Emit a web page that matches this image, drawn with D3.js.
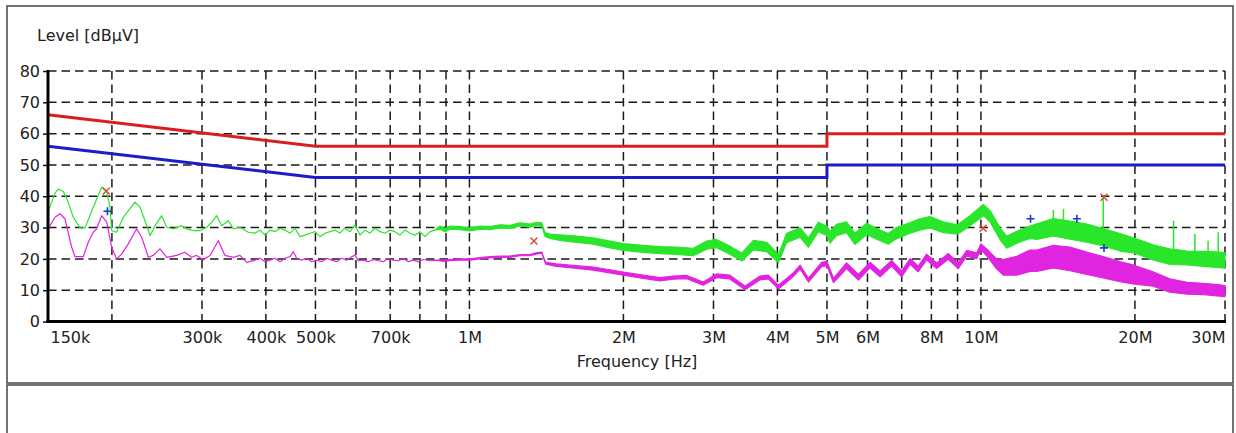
<!DOCTYPE html>
<html>
<head>
<meta charset="utf-8">
<script src="https://cdn.jsdelivr.net/npm/d3@7"></script>
<style>
    body { margin: 0; background: #fff; }
    svg text { font-family: "DejaVu Sans", Verdana, sans-serif; fill: #222; }
</style>
</head>
<body>
<svg id="chart" width="1236" height="433"></svg>
<script>
// frequencies in kHz, levels in dBµV, third value = half width of the noise band
const peakTrace = [
    [150, 35.0], [154.8, 41.0], [157.1, 42.3], [160.7, 41.5], [163.5, 39.0], [168.1, 33.3], [173.3, 29.9],
    [177.2, 29.9], [183.9, 36.5], [191.0, 42.9], [195.4, 41.3], [198.3, 36.5], [199.8, 29.0], [204.3, 28.5],
    [210.6, 33.3], [221.9, 38.1], [227.0, 36.5], [234.0, 30.6], [237.5, 27.4], [242.9, 30.6], [250.3, 33.8],
    [256.0, 30.1], [263.7, 29.6], [273.8, 30.6], [280.0, 29.6], [288.5, 29.0], [297.3, 29.0], [306.5, 30.1],
    [313.4, 31.7], [320.6, 33.8], [327.8, 30.6], [337.8, 32.2], [345.5, 29.6], [356.0, 30.1], [369.6, 28.5],
    [380.8, 28.2], [389.5, 29.2], [398.4, 27.6], [407.5, 29.2], [416.7, 28.7], [426.3, 29.8], [435.9, 29.2],
    [445.9, 28.2], [456.0, 29.8], [466.4, 27.1], [477.0, 27.6], [487.8, 28.2], [499.0, 28.7], [510.3, 27.1],
    [521.9, 28.2], [533.8, 28.7], [546.0, 29.2], [558.4, 28.2], [571.0, 29.8], [584.0, 28.7], [597.3, 30.8],
    [611.0, 27.6], [624.9, 29.2], [639.2, 28.2], [653.7, 29.8], [668.6, 28.7], [683.7, 28.2], [699.3, 29.2],
    [715, 28.7], [731.5, 27.6], [748, 29.2], [765.3, 28.2], [783, 27.6], [800.6, 28.7], [819, 27.1],
    [837.3, 28.7], [856, 29.2], [876, 30.0, 0.5], [896, 29.2, 0.5], [916.2, 30.0, 0.5], [958.5, 29.8, 0.5],
    [1002.5, 29.4, 0.5], [1048.8, 30.0, 0.5], [1097, 29.8, 0.5], [1147.5, 30.4, 0.5], [1200, 30.2, 0.5],
    [1255.6, 31.0, 0.5], [1313, 30.6, 0.5], [1355, 31.2, 0.5], [1385, 31.0, 0.5], [1405, 27.8, 0.6],
    [1437, 27.2, 0.7], [1503, 26.8, 0.9], [1620, 26.3, 1.0], [1747, 25.7, 1.0], [1883, 24.6, 1.1],
    [2000, 23.8, 1.1], [2187, 23.2, 1.1], [2359, 22.8, 1.1], [2543, 22.6, 1.2], [2739, 22.2, 1.2],
    [2910, 24.4, 1.3], [3040, 24.9, 1.3], [3185, 23.3, 1.3], [3410, 20.6, 1.3], [3590, 24.4, 1.5],
    [3810, 23.8, 1.5], [4020, 20.1, 1.3], [4170, 26.7, 1.5], [4430, 28.4, 1.5], [4600, 25.2, 1.5],
    [4810, 30.2, 1.5], [5000, 28.9, 1.5], [5070, 26.9, 1.9], [5220, 29.2, 1.8], [5460, 30.1, 1.7],
    [5670, 26.4, 1.8], [5980, 29.6, 1.8], [6250, 28.0, 1.7], [6590, 26.4, 1.7], [6840, 28.2, 1.8],
    [7270, 29.9, 1.7], [7600, 31.0, 1.8], [7950, 31.7, 1.8], [8440, 30.1, 1.7], [9000, 29.4, 1.5],
    [9520, 32.2, 1.6], [10110, 35.6, 1.8], [10420, 33.6, 1.8], [10900, 28.0, 1.9], [11230, 25.3, 1.9],
    [11750, 26.9, 1.9], [12470, 28.5, 2.0], [12860, 28.7, 2.5], [13850, 30.1, 2.8], [14930, 29.2, 2.9],
    [16100, 28.2, 2.9], [17340, 26.9, 2.8], [18700, 25.3, 2.8], [20000, 24.2, 2.4], [21700, 22.1, 2.4],
    [23400, 20.7, 2.5], [25300, 20.3, 2.2], [27200, 20.0, 2.4], [29300, 19.7, 2.5], [30000, 19.5, 2.5]
];

const avgTrace = [
    [150, 29.6], [154.8, 33.3], [158.3, 34.4], [161.9, 32.8], [166.9, 23.7], [169.4, 20.7], [175.8, 20.7],
    [179.8, 25.3], [183.9, 28.5], [186.7, 29.6], [191.0, 33.8], [195.4, 31.7], [199.8, 23.7], [204.3, 20.0],
    [209.1, 21.6], [215.3, 24.8], [223.6, 29.6], [228.7, 26.9], [235.7, 20.5], [241.0, 21.1], [248.3, 23.2],
    [256.0, 20.5], [267.7, 21.1], [277.8, 22.1], [286.3, 20.5], [292.9, 21.1], [301.8, 19.7], [311.0, 21.1],
    [322.9, 25.8], [332.7, 21.1], [345.5, 20.5], [356.0, 21.1], [366.9, 18.9], [380.8, 19.6], [389.5, 20.2],
    [398.4, 19.1], [407.5, 19.6], [416.7, 20.2], [426.3, 19.1], [435.9, 20.2], [445.9, 20.7], [452.6, 22.3],
    [459.5, 20.2], [470.0, 19.6], [480.8, 20.2], [491.7, 19.1], [502.8, 19.6], [514.2, 19.1], [525.9, 20.2],
    [537.8, 19.6], [550.0, 19.1], [562.5, 20.2], [575.5, 19.6], [588.6, 20.7], [597.3, 21.2], [606.4, 19.4],
    [620.3, 19.6], [634.4, 19.1], [648.8, 19.8], [663.4, 19.4], [678.6, 19.1], [694.0, 20.2], [709.8, 19.6],
    [726.0, 19.4], [742.5, 20.2], [759.4, 19.1], [776.7, 19.6], [794.5, 19.1], [812.4, 19.8], [837.3, 19.4],
    [863.1, 19.6], [889, 19.4, 0.2], [916.2, 19.6, 0.2], [958.5, 19.8, 0.2], [1002.5, 19.8, 0.2],
    [1048.8, 20.2, 0.2], [1097, 20.5, 0.2], [1147.5, 20.7, 0.2], [1200, 20.7, 0.2], [1255.6, 21.2, 0.2],
    [1313, 21.2, 0.2], [1355, 21.8, 0.2], [1385, 22.0, 0.2], [1397, 20.2, 0.2], [1410, 18.6, 0.3],
    [1481, 18.0, 0.4], [1572, 17.6, 0.4], [1747, 16.9, 0.5], [2000, 15.3, 0.5], [2187, 14.3, 0.5],
    [2359, 13.5, 0.5], [2500, 14.0, 0.5], [2660, 14.2, 0.5], [2865, 12.1, 0.5], [3040, 14.6, 0.6],
    [3230, 14.2, 0.6], [3460, 10.7, 0.6], [3700, 13.9, 0.6], [3840, 14.2, 0.6], [4020, 11.0, 0.6],
    [4300, 15.0, 0.6], [4430, 17.4, 0.6], [4600, 13.2, 0.6], [4880, 18.2, 0.7], [5000, 18.5, 0.7],
    [5150, 13.1, 0.7], [5460, 17.8, 0.9], [5760, 14.1, 0.9], [6070, 18.0, 0.9], [6350, 15.2, 0.9],
    [6690, 18.6, 0.9], [7000, 15.2, 0.9], [7270, 19.2, 0.9], [7540, 16.8, 0.9], [7830, 20.6, 0.9],
    [8190, 17.8, 0.9], [8630, 20.8, 0.9], [9030, 17.8, 0.9], [9380, 21.8, 0.9], [9810, 21.0, 0.9],
    [10000, 23.8, 1.0], [10260, 22.1, 1.1], [10730, 18.4, 1.6], [11060, 17.3, 2.5], [11750, 17.8, 3.0],
    [12470, 19.4, 3.4], [12860, 19.4, 3.4], [13850, 20.7, 3.6], [14930, 20.0, 3.8], [16100, 18.6, 3.6],
    [17340, 17.3, 3.4], [18700, 15.9, 3.2], [20000, 14.9, 3.0], [21700, 13.6, 2.3], [23400, 11.5, 2.1],
    [25300, 10.6, 1.9], [27200, 10.4, 1.8], [29300, 9.9, 1.8], [30000, 9.7, 1.8]
];

// narrow peaks sticking out of the peak band: [kHz, from, to]
const peakSpikes = [[13850, 32, 35.6], [14500, 32, 36.0], [17340, 28, 39.7], [23800, 22, 32.2],
    [26200, 22, 28.0], [27800, 21, 25.8], [29100, 21, 28.5]];

const qpMarkers = [[195, 41.7], [1337, 25.7], [10100, 29.8], [17400, 39.7]];
const avMarkers = [[196, 35.2], [12500, 32.8], [15400, 32.8], [17400, 23.5]];

const qpLimit = [[150, 66], [500, 56], [5000, 56], [5000, 60], [30000, 60]];
const avLimit = [[150, 56], [500, 46], [5000, 46], [5000, 50], [30000, 50]];

const xLabelFreqs = [150, 300, 400, 500, 700, 1000, 2000, 3000, 4000, 5000, 6000, 8000, 10000, 20000, 30000];
const xLabels = ['150k', '300k', '400k', '500k', '700k', '1M', '2M', '3M', '4M', '5M', '6M', '8M', '10M', '20M', '30M'];
const xGridFreqs = [200, 300, 400, 500, 600, 700, 800, 900, 1000, 2000, 3000, 4000, 5000, 6000, 7000, 8000,
    9000, 10000, 20000, 30000];
const yTicks = [0, 10, 20, 30, 40, 50, 60, 70, 80];

const plot = { left: 48, right: 1225, top: 71, bottom: 321.5 };
const green = '#2ae62a';
const magenta = '#e024e0';

const svg = d3.select('#chart');
const x = d3.scaleLog().domain([150, 30000]).range([plot.left, plot.right]);
const y = d3.scaleLinear().domain([0, 80]).range([plot.bottom, plot.top]);

svg.append('rect')
    .attr('x', 7).attr('y', 6).attr('width', 1226).attr('height', 377)
    .attr('fill', 'none').attr('stroke', '#444').attr('stroke-width', 1.5);
svg.append('rect')
    .attr('x', 7).attr('y', 385).attr('width', 1226).attr('height', 80)
    .attr('fill', 'none').attr('stroke', '#444').attr('stroke-width', 1.5);

const grid = svg.append('g')
    .attr('stroke', '#1a1a1a')
    .attr('stroke-width', 1.5)
    .attr('stroke-dasharray', '8.5,5');

grid.selectAll('.hgrid')
    .data(yTicks.slice(1))
    .enter().append('line')
    .attr('x1', plot.left).attr('x2', plot.right)
    .attr('y1', d => y(d)).attr('y2', d => y(d));

grid.selectAll('.vgrid')
    .data(xGridFreqs)
    .enter().append('line')
    .attr('x1', d => x(d)).attr('x2', d => x(d))
    .attr('y1', plot.top).attr('y2', plot.bottom);

const band = d3.area()
    .x(d => x(d[0]))
    .y0(d => y(d[1] - (d[2] || 0)))
    .y1(d => y(d[1] + (d[2] || 0)));

svg.append('path')
    .datum(avgTrace)
    .attr('d', band)
    .attr('fill', magenta)
    .attr('stroke', magenta)
    .attr('stroke-width', 1.2)
    .attr('stroke-linejoin', 'round');

svg.append('path')
    .datum(peakTrace)
    .attr('d', band)
    .attr('fill', green)
    .attr('stroke', green)
    .attr('stroke-width', 1.2)
    .attr('stroke-linejoin', 'round');

svg.append('g')
    .selectAll('line')
    .data(peakSpikes)
    .enter().append('line')
    .attr('x1', d => x(d[0])).attr('x2', d => x(d[0]))
    .attr('y1', d => y(d[1])).attr('y2', d => y(d[2]))
    .attr('stroke', green)
    .attr('stroke-width', 1.5);

const limitLine = d3.line().x(d => x(d[0])).y(d => y(d[1]));

svg.append('path')
    .datum(qpLimit)
    .attr('d', limitLine)
    .attr('fill', 'none')
    .attr('stroke', '#d81e1e')
    .attr('stroke-width', 3);

svg.append('path')
    .datum(avLimit)
    .attr('d', limitLine)
    .attr('fill', 'none')
    .attr('stroke', '#1c1cc8')
    .attr('stroke-width', 3);

svg.append('g')
    .selectAll('path')
    .data(qpMarkers)
    .enter().append('path')
    .attr('d', d => {
        const px = x(d[0]);
        const py = y(d[1]);
        return `M${px - 3.5},${py - 3.5}L${px + 3.5},${py + 3.5}M${px - 3.5},${py + 3.5}L${px + 3.5},${py - 3.5}`;
    })
    .attr('stroke', '#e0402a')
    .attr('stroke-width', 1.3);

svg.append('g')
    .selectAll('path')
    .data(avMarkers)
    .enter().append('path')
    .attr('d', d => {
        const px = x(d[0]);
        const py = y(d[1]);
        return `M${px - 4},${py}L${px + 4},${py}M${px},${py - 4}L${px},${py + 4}`;
    })
    .attr('stroke', '#1a3cc0')
    .attr('stroke-width', 1.6);

const xAxis = svg.append('g')
    .attr('transform', `translate(0,${plot.bottom})`)
    .call(d3.axisBottom(x).tickValues(xLabelFreqs).tickFormat((d, i) => xLabels[i]).tickSize(0).tickPadding(10));
xAxis.select('.domain').remove();
xAxis.selectAll('text')
    .attr('font-size', 16)
    .attr('text-anchor', (d, i) => i === 0 ? 'start' : i === xLabels.length - 1 ? 'end' : 'middle')
    .attr('dx', (d, i) => i === 0 ? 2 : 0);

const yAxis = svg.append('g')
    .attr('transform', `translate(${plot.left},0)`)
    .call(d3.axisLeft(y).tickValues(yTicks).tickSize(5).tickPadding(3));
yAxis.select('.domain').remove();
yAxis.selectAll('line').attr('stroke', '#111').attr('stroke-width', 1.5);
yAxis.selectAll('text').attr('font-size', 16);

svg.append('line')
    .attr('x1', plot.left).attr('x2', plot.left)
    .attr('y1', plot.top - 1).attr('y2', plot.bottom + 1.5)
    .attr('stroke', '#000').attr('stroke-width', 3);
svg.append('line')
    .attr('x1', plot.left - 1.5).attr('x2', plot.right + 1)
    .attr('y1', plot.bottom).attr('y2', plot.bottom)
    .attr('stroke', '#000').attr('stroke-width', 3);

svg.append('text')
    .attr('x', 37).attr('y', 41)
    .attr('font-size', 16)
    .text('Level [dBµV]');

svg.append('text')
    .attr('x', 637).attr('y', 367)
    .attr('text-anchor', 'middle')
    .attr('font-size', 16)
    .text('Frequency [Hz]');
</script>
</body>
</html>
